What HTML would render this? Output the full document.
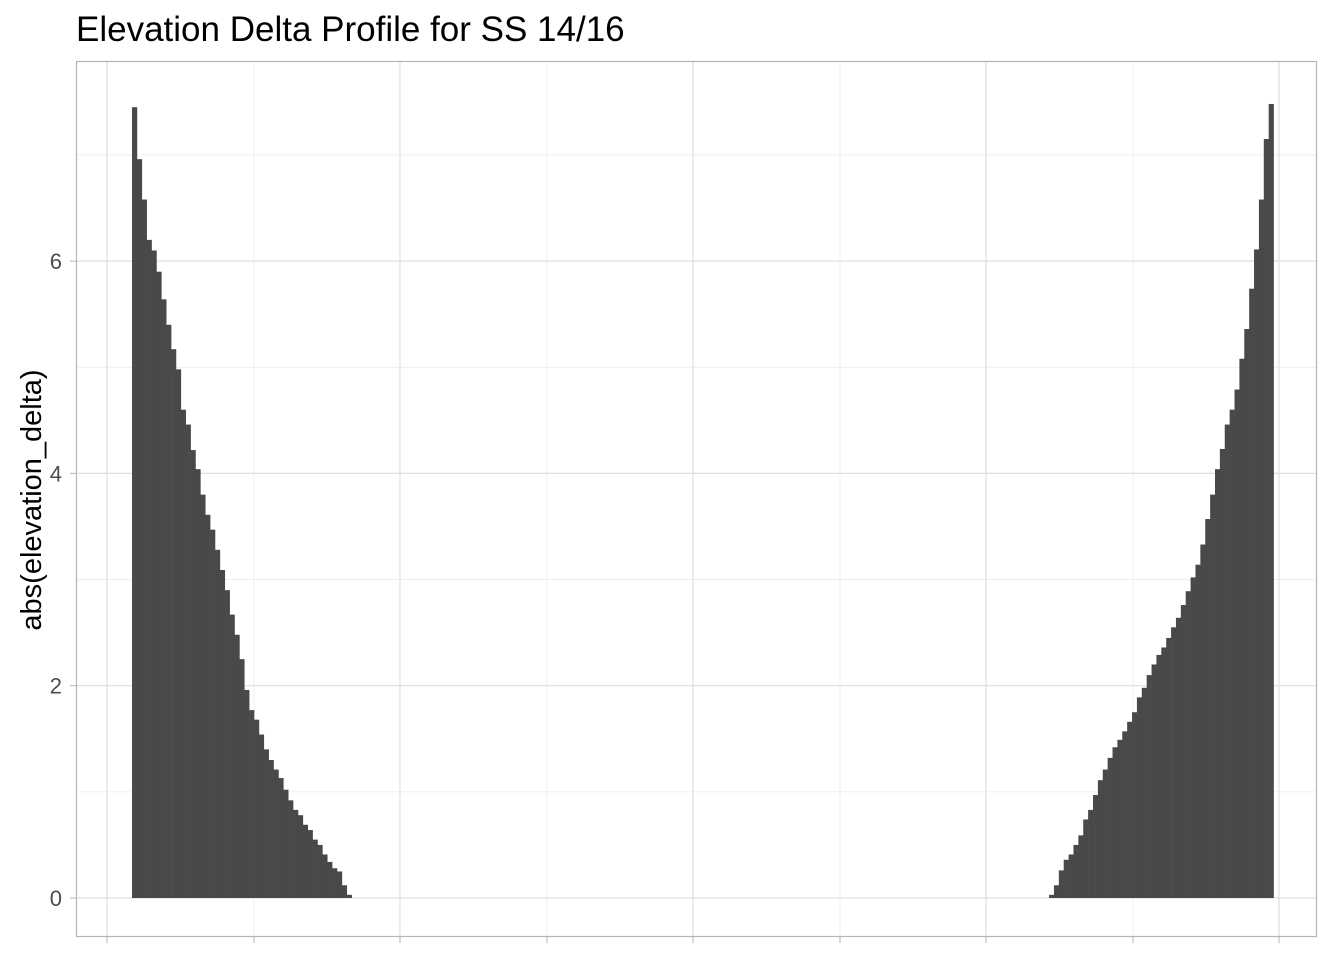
<!DOCTYPE html>
<html><head><meta charset="utf-8"><style>
body{margin:0;background:#fff;font-family:"Liberation Sans",Arial,sans-serif;}
</style></head><body>
<svg id="chart" width="1344" height="960" xmlns="http://www.w3.org/2000/svg">
<text x="76" y="41" font-size="35" fill="#000" font-family="Liberation Sans, sans-serif">Elevation Delta Profile for SS 14/16</text>
<text transform="translate(41,500) rotate(-90)" text-anchor="middle" font-size="29" fill="#000" font-family="Liberation Sans, sans-serif">abs(elevation_delta)</text>
<g id="grid"></g>
<g id="bars"></g>
<g id="yticks"></g>
<rect x="76.5" y="61.5" width="1240" height="875" fill="none" stroke="#b3b3b3" stroke-width="1.2"/>
</svg>
<script>
const leftValues=[7.45,6.96,6.58,6.2,6.1,5.9,5.64,5.4,5.17,4.98,4.6,4.46,4.22,4.04,3.8,3.61,3.47,3.28,3.09,2.9,2.67,2.48,2.25,1.96,1.77,1.68,1.54,1.40,1.30,1.21,1.13,1.02,0.92,0.83,0.78,0.69,0.64,0.55,0.5,0.41,0.34,0.28,0.25,0.12,0.03];
const rightValues=[0.03,0.12,0.26,0.36,0.41,0.5,0.59,0.74,0.83,0.97,1.11,1.21,1.32,1.42,1.49,1.57,1.66,1.75,1.89,1.98,2.1,2.2,2.29,2.36,2.45,2.55,2.64,2.76,2.89,3.02,3.14,3.33,3.57,3.8,4.04,4.23,4.46,4.6,4.79,5.08,5.36,5.74,6.11,6.58,7.15,7.48];
const yTicks=[0,2,4,6];
const leftStart=11.48, rightStart=199.4;
const NS="http://www.w3.org/2000/svg";
const X=v=>76+v*4.88;
const Y=v=>898-v*106.15;
const grid=document.getElementById('grid'),bars=document.getElementById('bars'),yt=document.getElementById('yticks');
function line(x1,y1,x2,y2,c,w,name){const l=document.createElementNS(NS,'line');l.setAttribute('x1',x1);l.setAttribute('y1',y1);l.setAttribute('x2',x2);l.setAttribute('y2',y2);l.setAttribute('stroke',c);l.setAttribute('stroke-width',w);


grid.appendChild(l);}
for(let v=-1;v<=7;v+=2){line(77,Y(v),1316,Y(v),'#ebebeb',0.8,'y-minor-gridline');}
yTicks.forEach(v=>line(77,Y(v),1316,Y(v),'#dedede',1.2,'y-major-gridline'));
[107,254,400,547,693,840,986,1133,1279].forEach((px,i)=>line(px,62,px,936,i%2?'#ebebeb':'#dedede',i%2?0.8:1.2,'x-gridline'));
yTicks.forEach(v=>{const t=document.createElementNS(NS,'text');t.setAttribute('x',62);t.setAttribute('y',Y(v)+8);t.setAttribute('text-anchor','end');t.setAttribute('font-size','22');t.setAttribute('fill','#4d4d4d');t.textContent=v;


yt.appendChild(t);
const k=document.createElementNS(NS,'line');k.setAttribute('x1',70);k.setAttribute('x2',76);k.setAttribute('y1',Y(v));k.setAttribute('y2',Y(v));k.setAttribute('stroke','#b3b3b3');


yt.appendChild(k);});
[107,254,400,547,693,840,986,1133,1279].forEach(px=>{const k=document.createElementNS(NS,'line');k.setAttribute('x1',px);k.setAttribute('x2',px);k.setAttribute('y1',937);k.setAttribute('y2',943);k.setAttribute('stroke','#b3b3b3');


yt.appendChild(k);});
function bar(pos,v,name){const r=document.createElementNS(NS,'rect');const x0=X(pos),x1=X(pos+1);r.setAttribute('x',x0);r.setAttribute('width',x1-x0+0.3);r.setAttribute('y',Y(v));r.setAttribute('height',Y(0)-Y(v));r.setAttribute('fill','#494949');


bars.appendChild(r);}
leftValues.forEach((v,i)=>bar(leftStart+i,v,'bar-left'));
rightValues.forEach((v,i)=>bar(rightStart+i,v,'bar-right'));
</script>
</body></html>
